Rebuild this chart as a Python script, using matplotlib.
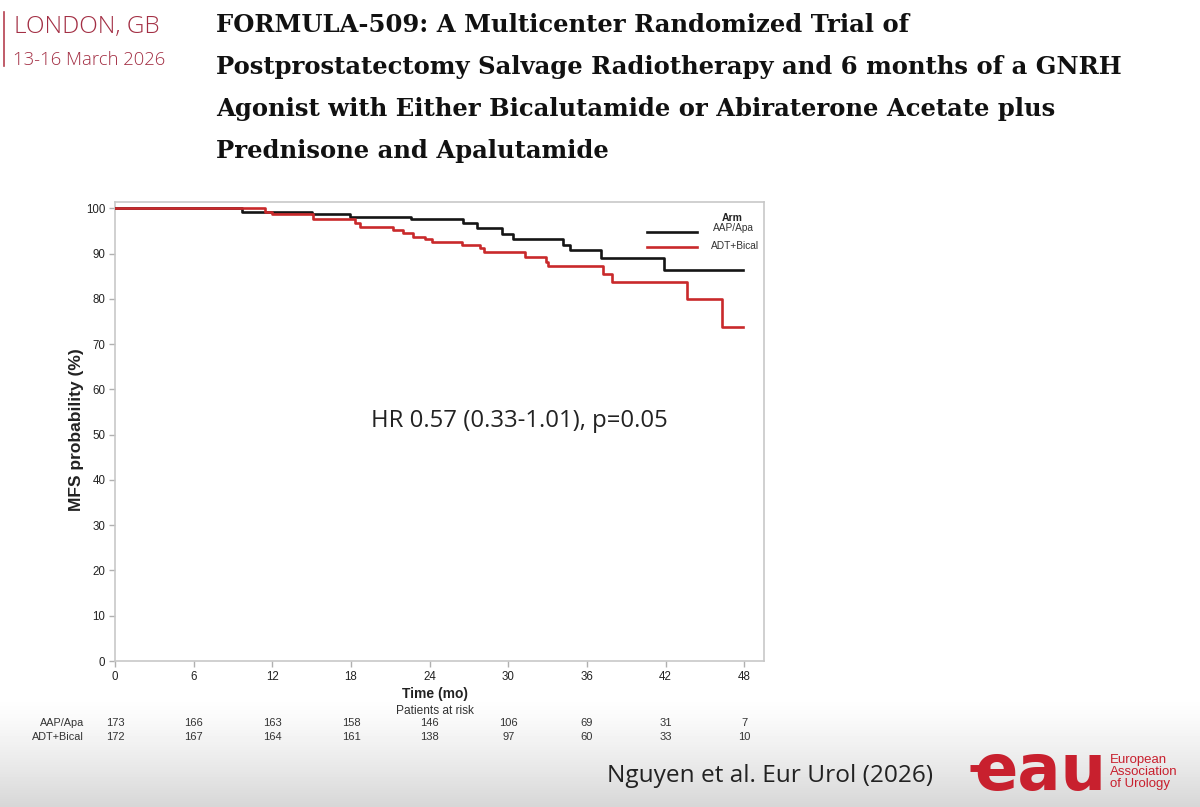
import numpy as np
import matplotlib
matplotlib.use("Agg")
import matplotlib.pyplot as plt
from matplotlib.transforms import blended_transform_factory

# ---------------- data ----------------
aap_time = [0, 9.66, 15.0, 17.93, 22.55, 26.57, 27.59, 29.5, 30.38, 34.2, 34.7, 37.05, 41.9, 47.93]
aap_surv = [100, 99.25, 98.67, 98.15, 97.57, 96.7, 95.6, 94.3, 93.2, 91.9, 90.8, 89.1, 86.4, 86.4]

adt_time = [0, 11.44, 11.95, 15.13, 18.3, 18.69, 21.23, 21.99, 22.75, 23.65, 24.15, 26.45, 27.84,
            28.15, 31.27, 32.88, 33.05, 37.25, 37.88, 43.6, 46.28, 47.93]
adt_surv = [100, 99.25, 98.67, 97.57, 96.7, 95.8, 95.2, 94.45, 93.7, 93.2, 92.5, 91.9, 91.2,
            90.4, 89.3, 88.2, 87.25, 85.5, 83.8, 79.9, 73.7, 73.7]

x_ticks = [0, 6, 12, 18, 24, 30, 36, 42, 48]
y_ticks = [0, 10, 20, 30, 40, 50, 60, 70, 80, 90, 100]
arms = ["AAP/Apa", "ADT+Bical"]
risk_aap = [173, 166, 163, 158, 146, 106, 69, 31, 7]
risk_adt = [172, 167, 164, 161, 138, 97, 60, 33, 10]

title_lines = [
    "FORMULA-509: A Multicenter Randomized Trial of",
    "Postprostatectomy Salvage Radiotherapy and 6 months of a GNRH",
    "Agonist with Either Bicalutamide or Abiraterone Acetate plus",
    "Prednisone and Apalutamide",
]

W, H = 1200, 807
fig = plt.figure(figsize=(W / 100, H / 100), dpi=100)

def fx(x):
    return x / W

def fy(y):
    return 1 - y / H

# background gradient at bottom
bg = fig.add_axes([0, 0, 1, 1], zorder=-10)
bg.set_axis_off()
vals = np.ones(H)
start = 695
for i in range(H):
    if i > start:
        t = (i - start) / (H - start)
        vals[i] = 1 - 0.16 * t ** 1.3
grad = np.repeat(vals[:, None], 2, axis=1)
bg.imshow(grad, cmap="gray", vmin=0, vmax=1, aspect="auto", extent=[0, 1, 0, 1], origin="upper")
bg.set_xlim(0, 1)
bg.set_ylim(0, 1)

# ---------------- main plot ----------------
L, R, T, B = 115, 764, 202, 661
ax = fig.add_axes([fx(L), fy(B), (R - L) / W, (B - T) / H])
ax.set_xlim(0, (R - L) / 13.11)
ax.set_ylim(0, (B - T) / 4.527)

ax.step(aap_time, aap_surv, where="post", color="#151515", lw=1.9, zorder=3)
ax.step(adt_time, adt_surv, where="post", color="#c9292b", lw=1.9, zorder=3)

for s in ax.spines.values():
    s.set_color("#c8c8c8")
    s.set_linewidth(1.2)
ax.set_xticks(x_ticks)
ax.set_yticks(y_ticks)
ax.tick_params(axis="both", length=4, width=1, color="#b0b0b0", labelsize=8.3,
               labelcolor="#222222", pad=3)
for lab in ax.get_xticklabels() + ax.get_yticklabels():
    lab.set_family("Liberation Sans")

# legend drawn manually
ax.text(0.951, 0.965, "Arm", transform=ax.transAxes, ha="center", va="center",
        fontsize=7.5, fontweight="bold", family="Liberation Sans", color="#222")
ax.plot([0.819, 0.896], [0.935, 0.935], transform=ax.transAxes, color="#151515", lw=1.9)
ax.plot([0.819, 0.896], [0.901, 0.901], transform=ax.transAxes, color="#c9292b", lw=1.9)
ax.text(0.985, 0.943, arms[0], transform=ax.transAxes, ha="right", va="center",
        fontsize=7.3, family="Liberation Sans", color="#333")
ax.text(0.992, 0.905, arms[1], transform=ax.transAxes, ha="right", va="center",
        fontsize=7.3, family="Liberation Sans", color="#333")

# axis labels
fig.text(fx(76), fy(430), "MFS probability (%)", rotation=90, ha="center", va="center",
         fontsize=12.5, fontweight="bold", family="Liberation Sans", color="#222")
fig.text(fx(435), fy(694), "Time (mo)", ha="center", va="center",
         fontsize=10, fontweight="bold", family="Liberation Sans", color="#222")
fig.text(fx(435), fy(711), "Patients at risk", ha="center", va="center",
         fontsize=8.6, family="Liberation Sans", color="#333")

# risk table
tr = blended_transform_factory(ax.transData, fig.transFigure)
for t, a, d in zip(x_ticks, risk_aap, risk_adt):
    ax.text(t, fy(723), str(a), transform=tr, ha="center", va="center", fontsize=8,
            family="Liberation Sans", color="#333", clip_on=False)
    ax.text(t, fy(737), str(d), transform=tr, ha="center", va="center", fontsize=8,
            family="Liberation Sans", color="#333", clip_on=False)
fig.text(fx(84), fy(723), arms[0], ha="right", va="center", fontsize=7.8,
         family="Liberation Sans", color="#333")
fig.text(fx(84), fy(737), arms[1], ha="right", va="center", fontsize=7.8,
         family="Liberation Sans", color="#333")

# HR annotation
fig.text(fx(371), fy(421), "HR 0.57 (0.33-1.01), p=0.05", ha="left", va="center",
         fontsize=17.2, family="Open Sans", color="#222")

# ---------------- slide decorations ----------------
title_y = [25, 67, 109, 151]
for line, y in zip(title_lines, title_y):
    fig.text(fx(216), fy(y), line, ha="left", va="center", fontsize=17.5,
             fontweight="bold", family="DejaVu Serif", color="#111")

fig.add_artist(plt.Line2D([fx(4), fx(4)], [fy(12), fy(66)], color="#b5404f", lw=1.2))
fig.text(fx(14), fy(27), "LONDON, GB", ha="left", va="center", fontsize=17.5,
         family="Open Sans", fontweight="light", color="#a32f44")
fig.text(fx(13), fy(60), "13-16 March 2026", ha="left", va="center", fontsize=13.3,
         family="Open Sans", fontweight="light", color="#a32f44")

fig.text(fx(607), fy(776), "Nguyen et al. Eur Urol (2026)", ha="left", va="center",
         fontsize=17.6, family="Open Sans", color="#222")

# EAU logo
logo_red = "#c8202e"
fig.add_artist(plt.Line2D([fx(970), fx(990)], [fy(768), fy(768)], color=logo_red, lw=5,
                          solid_capstyle="butt"))
fig.text(fx(1040), fy(772), "eau", ha="center", va="center", fontsize=46,
         fontweight="bold", family="DejaVu Sans", color=logo_red)
fig.text(fx(1110), fy(772), "European\nAssociation\nof Urology", ha="left", va="center",
         fontsize=9.5, family="Liberation Sans", color=logo_red, linespacing=1.05)

fig.savefig("out.png", dpi=100)
